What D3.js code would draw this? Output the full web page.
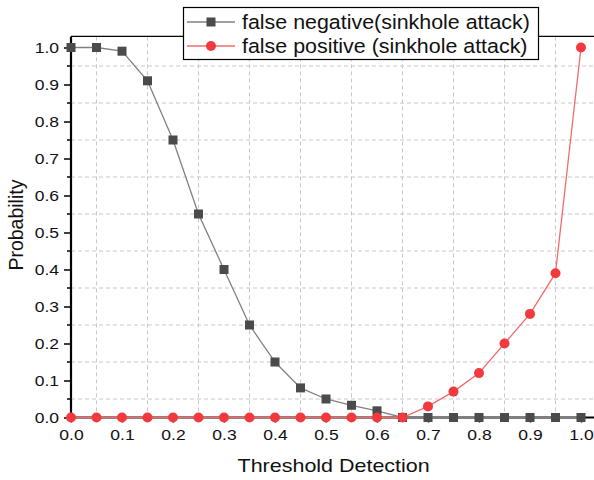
<!DOCTYPE html>
<html>
<head>
<meta charset="utf-8">
<script src="https://cdn.jsdelivr.net/npm/d3@7"></script>
<style>
  html, body { margin: 0; padding: 0; background: #fff; }
  svg { display: block; font-family: "Liberation Sans", Arial, sans-serif; }
</style>
</head>
<body>
<svg id="chart" width="594" height="480"></svg>
<script>
// Threshold values on the x axis
const thresholds = [0.0, 0.05, 0.1, 0.15, 0.2, 0.25, 0.3, 0.35, 0.4, 0.45, 0.5,
                    0.55, 0.6, 0.65, 0.7, 0.75, 0.8, 0.85, 0.9, 0.95, 1.0];
// Probability of a false negative for each threshold
const falseNegative = [1.0, 1.0, 0.99, 0.91, 0.75, 0.55, 0.40, 0.25, 0.15, 0.08, 0.05,
                       0.033, 0.018, 0.0, 0.0, 0.0, 0.0, 0.0, 0.0, 0.0, 0.0];
// Probability of a false positive for each threshold
const falsePositive = [0.0, 0.0, 0.0, 0.0, 0.0, 0.0, 0.0, 0.0, 0.0, 0.0, 0.0,
                       0.0, 0.0, 0.0, 0.03, 0.07, 0.12, 0.20, 0.28, 0.39, 1.0];
const seriesNames = ["false negative(sinkhole attack)", "false positive (sinkhole attack)"];
const tickValues = [0.0, 0.1, 0.2, 0.3, 0.4, 0.5, 0.6, 0.7, 0.8, 0.9, 1.0];
const gridValues = [0.05, 0.15, 0.25, 0.35, 0.45, 0.55, 0.65, 0.75, 0.85, 0.95];

const svg = d3.select("#chart");
const plotLeft = 71, plotBottom = 417.5;
const WIDEN = 1.13; // horizontal widening applied to upright text

// widen a text selection horizontally by a fixed factor
function widen(sel, k) {
  sel.each(function () {
    const len = this.getComputedTextLength();
    d3.select(this).attr("textLength", len * k).attr("lengthAdjust", "spacingAndGlyphs");
  });
}

const x = d3.scaleLinear().domain([0, 1.03]).range([plotLeft, plotLeft + 510 * 1.03]);
const y = d3.scaleLinear().domain([0, 1.03]).range([plotBottom, plotBottom - 370 * 1.03]);

const g = svg.append("g");

// dashed grid lines between the major ticks
g.append("g").selectAll("line").data(gridValues).join("line")
  .attr("x1", d => x(d)).attr("x2", d => x(d))
  .attr("y1", y(1.03)).attr("y2", plotBottom)
  .attr("stroke", "#c8c8c8").attr("stroke-width", 1).attr("stroke-dasharray", "4,3");
g.append("g").selectAll("line").data(gridValues).join("line")
  .attr("y1", d => y(d)).attr("y2", d => y(d))
  .attr("x1", plotLeft).attr("x2", x(1.03))
  .attr("stroke", "#c8c8c8").attr("stroke-width", 1).attr("stroke-dasharray", "4,3");

// top frame line
g.append("line")
  .attr("x1", plotLeft).attr("x2", x(1.03))
  .attr("y1", y(1.03)).attr("y2", y(1.03))
  .attr("stroke", "#000").attr("stroke-width", 1.3);

// y axis with minor ticks
const yAxis = g.append("g").attr("transform", `translate(${plotLeft},0)`)
  .call(d3.axisLeft(y).tickValues(tickValues).tickFormat(d3.format(".1f")).tickSize(7).tickPadding(5));
yAxis.append("g").selectAll("line").data(gridValues).join("line")
  .attr("x1", -4).attr("x2", 0).attr("y1", d => y(d)).attr("y2", d => y(d))
  .attr("stroke", "#000").attr("stroke-width", 1.5);

// x axis
const xAxis = g.append("g").attr("transform", `translate(0,${plotBottom})`)
  .call(d3.axisBottom(x).tickValues(tickValues).tickFormat(d3.format(".1f")).tickSize(5).tickPadding(6));

[yAxis, xAxis].forEach(a => {
  a.select(".domain").attr("stroke", "#000").attr("stroke-width", 2.2);
  a.selectAll(".tick line").attr("stroke", "#000").attr("stroke-width", 1.5);
  a.selectAll(".tick text").attr("font-size", 15.5).attr("fill", "#111")
    .attr("font-family", "'Liberation Sans', Arial, sans-serif");
  widen(a.selectAll(".tick text"), WIDEN);
});
yAxis.select(".domain").attr("d", `M0,${plotBottom}V${y(1.03)}`);
xAxis.select(".domain").attr("d", `M${plotLeft},0H${x(1.03)}`);

// axis titles
const xTitle = svg.append("text")
  .attr("x", x(0.515)).attr("y", 472)
  .attr("text-anchor", "middle").attr("font-size", 19).attr("fill", "#111")
  .text("Threshold Detection");
widen(xTitle, WIDEN);
svg.append("text")
  .attr("transform", `translate(23,${y(0.52)}) rotate(-90)`)
  .attr("text-anchor", "middle").attr("font-size", 19.5).attr("fill", "#111")
  .text("Probability");

const line = d3.line().x(d => x(d[0])).y(d => y(d[1]));
const fnData = thresholds.map((t, i) => [t, falseNegative[i]]);
const fpData = thresholds.map((t, i) => [t, falsePositive[i]]);

const greyLine = "#808080", greyMark = "#4b4b4b";
const redLine = "#f26b6b", redMark = "#f23a3e";
const sq = 9, rad = 5;

// false negative series
g.append("path").datum(fnData).attr("d", line)
  .attr("fill", "none").attr("stroke", greyLine).attr("stroke-width", 1.3);
g.append("g").selectAll("rect").data(fnData).join("rect")
  .attr("x", d => x(d[0]) - sq / 2).attr("y", d => y(d[1]) - sq / 2)
  .attr("width", sq).attr("height", sq).attr("fill", greyMark);

// false positive series
g.append("path").datum(fpData).attr("d", line)
  .attr("fill", "none").attr("stroke", redLine).attr("stroke-width", 1.3);
g.append("g").selectAll("circle").data(fpData).join("circle")
  .attr("cx", d => x(d[0])).attr("cy", d => y(d[1])).attr("r", rad)
  .attr("fill", redMark);

// legend
const lg = svg.append("g");
lg.append("rect").attr("x", 183.5).attr("y", 7.5).attr("width", 355).attr("height", 52)
  .attr("fill", "#fff").attr("stroke", "#000").attr("stroke-width", 1.2);
const rows = [
  { name: seriesNames[0], line: greyLine, mark: greyMark, shape: "square", yy: 22, base: 29 },
  { name: seriesNames[1], line: redLine, mark: redMark, shape: "circle", yy: 46, base: 52.5 }
];
rows.forEach(r => {
  lg.append("line").attr("x1", 187).attr("x2", 235).attr("y1", r.yy).attr("y2", r.yy)
    .attr("stroke", r.line).attr("stroke-width", 1.3);
  if (r.shape === "square") {
    lg.append("rect").attr("x", 211 - sq / 2).attr("y", r.yy - sq / 2)
      .attr("width", sq).attr("height", sq).attr("fill", r.mark);
  } else {
    lg.append("circle").attr("cx", 211).attr("cy", r.yy).attr("r", rad).attr("fill", r.mark);
  }
  const t = lg.append("text").attr("x", 242).attr("y", r.base)
    .attr("font-size", 19.3).attr("fill", "#111").text(r.name);
  widen(t, 1.11);
});
</script>
</body>
</html>
